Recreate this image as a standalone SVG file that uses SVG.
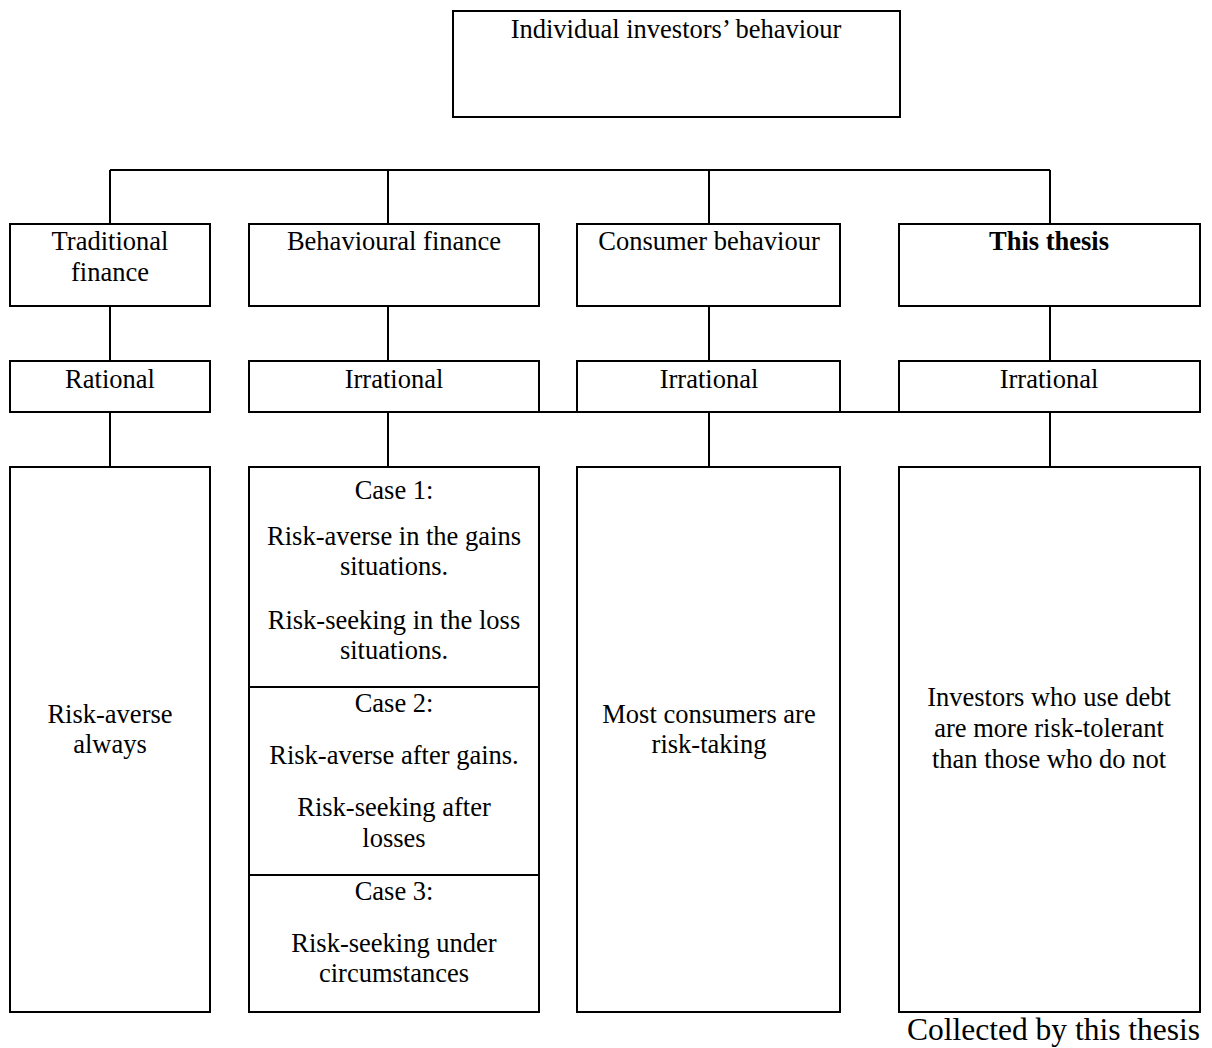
<svg xmlns="http://www.w3.org/2000/svg" width="1212" height="1048" viewBox="0 0 1212 1048">
<style>
  .box { fill: #fff; stroke: #000; stroke-width: 2; }
  .wire { fill: none; stroke: #000; stroke-width: 2; }
  text { font-family: "Liberation Serif", "Times New Roman", serif; font-size: 26.5px; fill: #000; text-anchor: middle; }
  .b { font-weight: bold; }
  .note { font-size: 31.5px; text-anchor: start; }
</style>
<rect width="1212" height="1048" fill="#fff"/>

<!-- tree connectors: bus under the root, then the column drops -->
<g id="connectors">
  <path class="wire" d="M110 170 H1050 M110 170 V224 M388 170 V224 M709 170 V224 M1050 170 V224"/>
  <path class="wire" d="M110 306 V361 M388 306 V361 M709 306 V361 M1050 306 V361"/>
  <path class="wire" d="M539 412 H577 M840 412 H899"/>
  <path class="wire" d="M110 412 V467 M388 412 V467 M709 412 V467 M1050 412 V467"/>
</g>

<g id="root">
  <rect class="box" x="453" y="11" width="447" height="106"/>
  <text x="676" y="38">Individual investors’ behaviour</text>
</g>

<g id="traditional">
  <rect class="box" x="10" y="224" width="200" height="82"/>
  <text x="110" y="250">Traditional</text>
  <text x="110" y="281">finance</text>
</g>
<g id="behavioural">
  <rect class="box" x="249" y="224" width="290" height="82"/>
  <text x="394" y="250">Behavioural finance</text>
</g>
<g id="consumer">
  <rect class="box" x="577" y="224" width="263" height="82"/>
  <text x="709" y="250">Consumer behaviour</text>
</g>
<g id="thesis">
  <rect class="box" x="899" y="224" width="301" height="82"/>
  <text class="b" x="1049" y="250">This thesis</text>
</g>

<g id="rational">
  <rect class="box" x="10" y="361" width="200" height="51"/>
  <text x="110" y="388">Rational</text>
</g>
<g id="irrational-bf">
  <rect class="box" x="249" y="361" width="290" height="51"/>
  <text x="394" y="388">Irrational</text>
</g>
<g id="irrational-cb">
  <rect class="box" x="577" y="361" width="263" height="51"/>
  <text x="709" y="388">Irrational</text>
</g>
<g id="irrational-th">
  <rect class="box" x="899" y="361" width="301" height="51"/>
  <text x="1049" y="388">Irrational</text>
</g>

<g id="risk-averse">
  <rect class="box" x="10" y="467" width="200" height="545"/>
  <text x="110" y="723">Risk-averse</text>
  <text x="110" y="753">always</text>
</g>
<g id="cases">
  <rect class="box" x="249" y="467" width="290" height="545"/>
  <path class="wire" d="M249 687 H539 M249 875 H539"/>
  <text x="394" y="499">Case 1:</text>
  <text x="394" y="545">Risk-averse in the gains</text>
  <text x="394" y="575">situations.</text>
  <text x="394" y="629">Risk-seeking in the loss</text>
  <text x="394" y="659">situations.</text>
  <text x="394" y="712">Case 2:</text>
  <text x="394" y="764">Risk-averse after gains.</text>
  <text x="394" y="816">Risk-seeking after</text>
  <text x="394" y="847">losses</text>
  <text x="394" y="900">Case 3:</text>
  <text x="394" y="952">Risk-seeking under</text>
  <text x="394" y="982">circumstances</text>
</g>
<g id="consumers">
  <rect class="box" x="577" y="467" width="263" height="545"/>
  <text x="709" y="723">Most consumers are</text>
  <text x="709" y="753">risk-taking</text>
</g>
<g id="debt">
  <rect class="box" x="899" y="467" width="301" height="545"/>
  <text x="1049" y="706">Investors who use debt</text>
  <text x="1049" y="737">are more risk-tolerant</text>
  <text x="1049" y="768">than those who do not</text>
</g>

<text class="note" x="907" y="1040">Collected by this thesis</text>
</svg>
